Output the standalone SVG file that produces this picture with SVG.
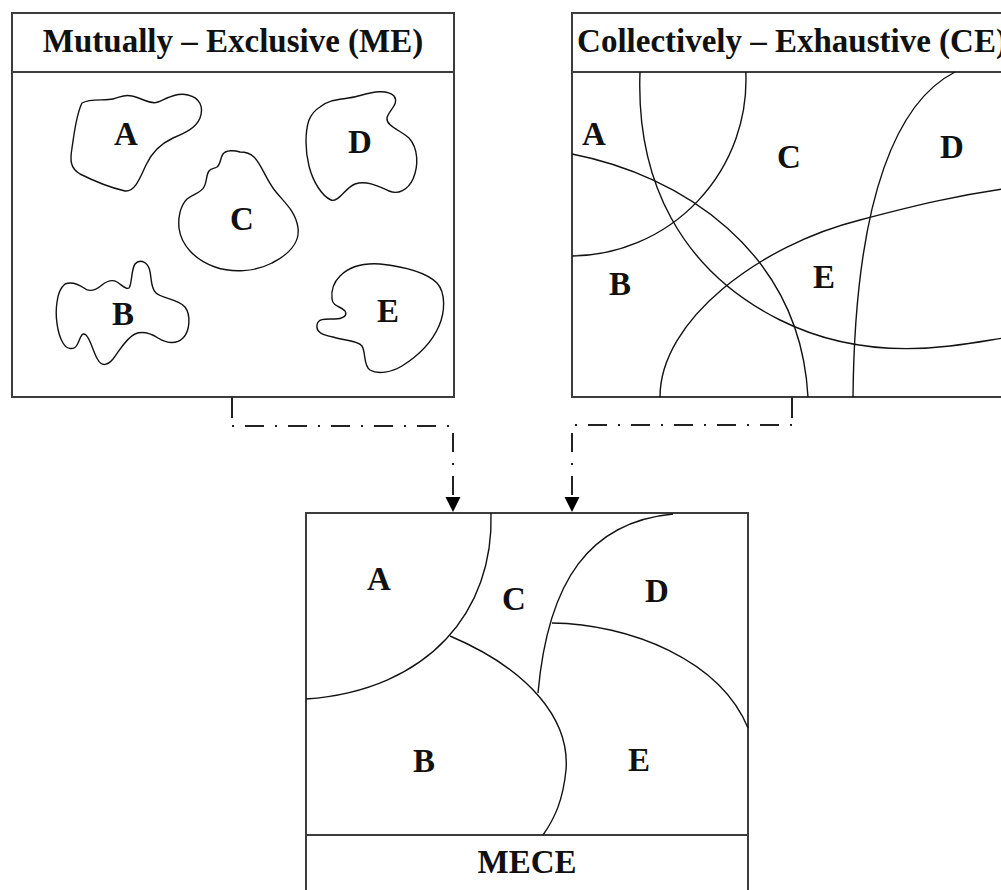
<svg xmlns="http://www.w3.org/2000/svg" width="1001" height="890" viewBox="0 0 1001 890">
  <style>
    .frame { fill: #fff; stroke: #3c3c3c; stroke-width: 2; }
    .rule { stroke: #3c3c3c; stroke-width: 2; }
    .shape { fill: none; stroke: #111; stroke-width: 1.4; }
    .title { font-family: "Liberation Serif", "Times New Roman", serif; font-weight: bold; font-size: 33px; fill: #111; text-anchor: middle; }
    .lbl { font-family: "Liberation Serif", "Times New Roman", serif; font-weight: bold; font-size: 33px; fill: #111; text-anchor: middle; }
    .stub { stroke: #222; stroke-width: 2; fill: none; }
    .flow { stroke: #222; stroke-width: 2; fill: none; stroke-dasharray: 2 11 19 11; }
  </style>
  <defs>
    <marker id="arrow" markerUnits="userSpaceOnUse" markerWidth="16" markerHeight="16" refX="15" refY="7.5" orient="auto">
      <path d="M0,0 L15,7.5 L0,15 Z" fill="#000"/>
    </marker>
  </defs>
  <rect width="1001" height="890" fill="#fff"/>

  <!-- Mutually Exclusive panel -->
  <g id="me">
    <rect class="frame" x="12" y="13" width="442" height="384"/>
    <line class="rule" x1="12" y1="72" x2="454" y2="72"/>
    <text class="title" x="233" y="52">Mutually – Exclusive (ME)</text>
    <!-- A -->
    <path class="shape" d="M 82,103 C 90,98 105,101 113,99 C 121,97 124,94 132,96 C 142,98 150,105 158,102 C 166,99 176,92 188,95 C 200,98 204,107 200,118 C 196,128 185,133 173,138 C 160,144 152,152 146,165 C 140,178 135,192 125,191 C 112,188 92,180 80,174 C 70,168 70,160 72,148 C 74,135 76,115 82,103 Z"/>
    <!-- C -->
    <path class="shape" d="M 240,152 C 234,150 226,150 223,154 C 220,158 221,164 217,167 C 214,169 211,168 209,171 C 206,175 207,182 204,187 C 201,193 193,194 187,199 C 180,206 178,218 179,228 C 181,245 195,260 215,267 C 232,273 255,272 272,263 C 288,255 300,243 298,228 C 296,212 285,203 276,192 C 266,180 262,165 254,157 C 250,153 245,152 240,152 Z"/>
    <!-- D -->
    <path class="shape" d="M 320,107 C 330,98 345,100 358,96 C 370,93 386,88 394,96 C 400,104 388,111 387,118 C 386,126 400,130 409,138 C 418,148 419,165 413,179 C 408,190 398,195 389,191 C 378,186 366,180 355,184 C 345,188 338,203 331,200 C 322,196 313,182 309,166 C 305,150 305,132 309,120 C 312,113 315,110 320,107 Z"/>
    <!-- B -->
    <path class="shape" d="M 65,284 C 72,281 78,284 84,288 C 90,293 96,290 102,285 C 107,281 112,279 117,282 C 122,285 126,290 129,288 C 132,285 131,270 135,264 C 139,259 146,261 149,268 C 152,276 150,288 156,293 C 163,299 178,299 185,307 C 191,315 190,331 183,338 C 176,345 166,343 158,338 C 150,333 142,331 135,334 C 126,338 120,350 113,359 C 108,365 102,367 98,360 C 93,352 91,340 86,335 C 81,331 80,340 77,345 C 74,350 67,350 63,343 C 57,333 55,315 57,302 C 58,294 60,288 65,284 Z"/>
    <!-- E -->
    <path class="shape" d="M 340,276 C 350,266 365,263 380,264 C 398,266 425,271 437,283 C 446,293 445,312 439,326 C 432,342 418,356 402,366 C 392,372 378,375 370,370 C 363,365 366,352 362,346 C 357,340 345,341 333,337 C 322,335 316,332 317,325 C 318,318 326,319 335,319 C 342,319 348,316 345,311 C 341,306 333,307 332,299 C 331,290 334,282 340,276 Z"/>
    <text class="lbl" x="126" y="145">A</text>
    <text class="lbl" x="123" y="325">B</text>
    <text class="lbl" x="242" y="230">C</text>
    <text class="lbl" x="360" y="153">D</text>
    <text class="lbl" x="388" y="322">E</text>
  </g>

  <!-- Collectively Exhaustive panel -->
  <g id="ce">
    <rect class="frame" x="572" y="13" width="442" height="384"/>
    <line class="rule" x1="572" y1="72" x2="1014" y2="72"/>
    <text class="title" x="792" y="52">Collectively – Exhaustive (CE)</text>
    <path class="shape" d="M 745.8,72 A 176 176 0 0 1 572,256"/>
    <path class="shape" d="M 640,72 C 636,180 680,270 780,320 C 840,350 900,352 950,346 C 975,343 990,340 1010,337"/>
    <path class="shape" d="M 572,154 C 680,175 800,250 808,397"/>
    <path class="shape" d="M 660,397 C 660,320 760,245 860,220 C 920,204 960,195 1010,188"/>
    <path class="shape" d="M 955,72 C 900,100 855,190 853,397"/>
    <text class="lbl" x="594" y="145">A</text>
    <text class="lbl" x="620" y="295">B</text>
    <text class="lbl" x="789" y="168">C</text>
    <text class="lbl" x="952" y="158">D</text>
    <text class="lbl" x="824" y="288">E</text>
  </g>

  <!-- MECE panel -->
  <g id="mece">
    <rect class="frame" x="306" y="513" width="442" height="390"/>
    <line class="rule" x1="306" y1="835" x2="748" y2="835"/>
    <text class="title" x="527" y="873">MECE</text>
    <path class="shape" d="M 491,513 C 494,610 430,690 306,699"/>
    <path class="shape" d="M 450,636 C 530,670 570,720 566,770 C 563,800 555,818 543,835"/>
    <path class="shape" d="M 673,514 C 590,522 548,580 538,693"/>
    <path class="shape" d="M 552,623 C 630,624 720,660 748,728"/>
    <text class="lbl" x="379" y="590">A</text>
    <text class="lbl" x="424" y="772">B</text>
    <text class="lbl" x="514" y="610">C</text>
    <text class="lbl" x="657" y="602">D</text>
    <text class="lbl" x="639" y="771">E</text>
  </g>

  <!-- connectors -->
  <g id="connectors">
    <line class="stub" x1="232" y1="397" x2="232" y2="418"/>
    <path class="flow" d="M 232,426 L 453,426 L 453,512" marker-end="url(#arrow)"/>
    <line class="stub" x1="792" y1="397" x2="792" y2="418"/>
    <path class="flow" d="M 792,425 L 572,425 L 572,512" marker-end="url(#arrow)"/>
  </g>
</svg>
